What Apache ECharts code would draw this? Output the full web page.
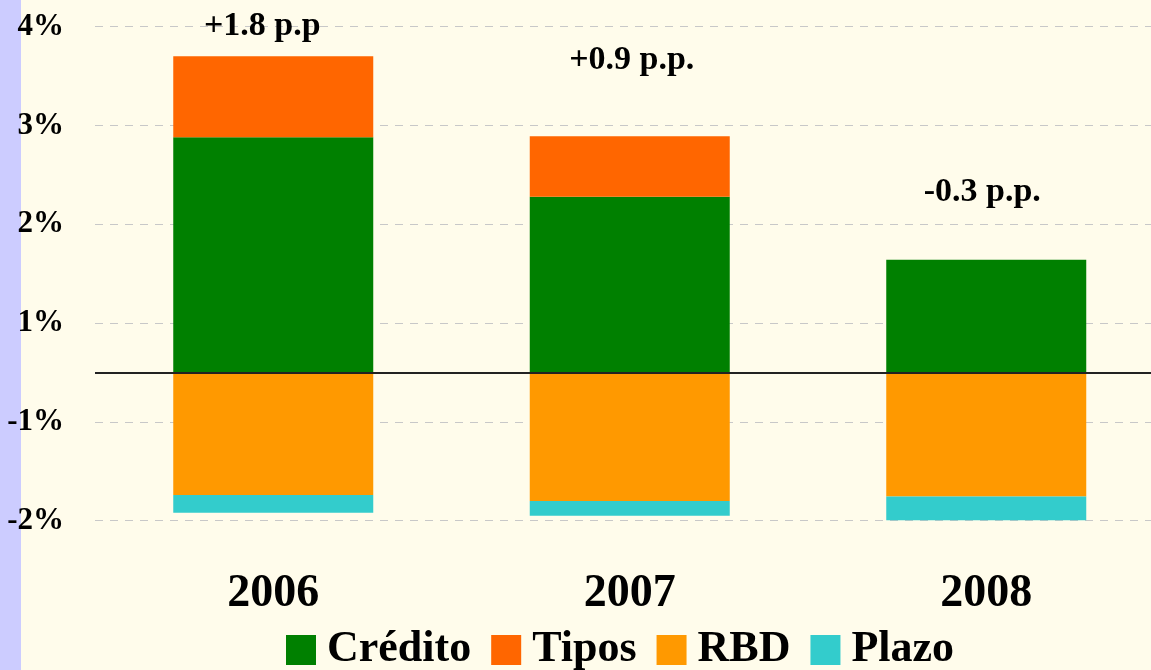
<!DOCTYPE html>
<html>
<head>
<meta charset="utf-8">
<script src="https://cdn.jsdelivr.net/npm/echarts@6/dist/echarts.min.js"></script>
<style>
    html, body { margin: 0; padding: 0; background: #fffceb; }
    #chart { width: 1151px; height: 670px; }
</style>
</head>
<body>
<div id="chart"></div>
<script>
    // datos (puntos porcentuales)
    const years = ['2006', '2007', '2008'];
    const credito = [2.38, 1.78, 1.14];
    const tipos = [0.82, 0.61, -0.015];
    const rbd = [-1.24, -1.30, -1.24];
    const plazo = [-0.18, -0.15, -0.24];
    const annoTexts = ['+1.8 p.p', '+0.9 p.p.', '-0.3 p.p.'];

    // etiquetas del eje tal como aparecen (redondeadas)
    const tickValues = [-1.5, -0.5, 0.5, 1.5, 2.5, 3.5];
    const tickLabels = ['-2%', '-1%', '1%', '2%', '3%', '4%'];

    const font = 'Liberation Serif';
    // ajuste de la posición de las anotaciones
    const annoDistance = [13, 59, 51];
    const annoShiftX = [-11, 2, -4];

    // parte superior de la barra positiva
    const tops = years.map((y, i) => Math.max(credito[i], 0) + Math.max(tipos[i], 0));

    let myChart = echarts.init(document.getElementById('chart'));
    myChart.setOption({
        backgroundColor: '#fffceb',
        animation: false,
        color: ['#008000', '#ff6600', '#ff9900', '#33cccc'],
        graphic: [{
            type: 'rect',
            left: 0,
            top: 0,
            z: -10,
            shape: { width: 21, height: 670 },
            style: { fill: '#ccccff' }
        }],
        grid: {
            left: 95,
            top: -22.7,
            right: -13.5,
            height: 592.8,
            outerBoundsMode: 'none'
        },
        legend: {
            data: ['Crédito', 'Tipos', 'RBD', 'Plazo'],
            left: 286,
            top: 628,
            padding: 0,
            icon: 'rect',
            itemWidth: 30,
            itemHeight: 30,
            itemGap: 20,
            textStyle: {
                fontFamily: font,
                fontWeight: 'bold',
                fontSize: 44,
                color: '#000',
                padding: [0, 0, 0, 6]
            }
        },
        xAxis: {
            type: 'category',
            data: years,
            axisLine: { show: false, onZero: false },
            axisTick: { show: false },
            axisLabel: {
                margin: 1,
                fontFamily: font,
                fontWeight: 'bold',
                fontSize: 46,
                color: '#000'
            }
        },
        yAxis: {
            type: 'value',
            min: -2,
            max: 4,
            interval: 0.5,
            axisLine: { show: false },
            axisTick: { show: false },
            splitLine: {
                show: true,
                lineStyle: {
                    // solo las líneas en ±0.5, 1.5, ...
                    color: ['rgba(0,0,0,0)', '#c8c8c8'],
                    type: [8, 7],
                    width: 1
                }
            },
            axisLabel: {
                margin: 31,
                fontFamily: font,
                fontWeight: 'bold',
                fontSize: 31,
                color: '#000',
                formatter: function (v) {
                    const i = tickValues.findIndex(t => Math.abs(t - v) < 1e-6);
                    return i >= 0 ? tickLabels[i] : '';
                }
            }
        },
        series: [{
                name: 'Crédito',
                type: 'bar',
                stack: 'total',
                barWidth: 200,
                data: credito,
                markLine: {
                    silent: true,
                    symbol: 'none',
                    label: { show: false },
                    lineStyle: { color: '#222', width: 2, type: 'solid' },
                    data: [{ yAxis: 0 }]
                },
                z: 2
            },
            {
                name: 'Tipos',
                type: 'bar',
                stack: 'total',
                barWidth: 200,
                data: tipos
            },
            {
                name: 'RBD',
                type: 'bar',
                stack: 'total',
                barWidth: 200,
                data: rbd
            },
            {
                name: 'Plazo',
                type: 'bar',
                stack: 'total',
                barWidth: 200,
                data: plazo
            },
            {
                name: 'neto',
                type: 'scatter',
                symbolSize: 0,
                silent: true,
                z: 5,
                itemStyle: { opacity: 1 },
                data: tops.map((v, i) => ({
                    value: v,
                    label: { distance: annoDistance[i], offset: [annoShiftX[i], 0] }
                })),
                label: {
                    show: true,
                    position: 'top',
                    fontFamily: font,
                    fontWeight: 'bold',
                    fontSize: 34,
                    color: '#000',
                    opacity: 1,
                    formatter: p => annoTexts[p.dataIndex]
                }
            }
        ]
    });
</script>
</body>
</html>
